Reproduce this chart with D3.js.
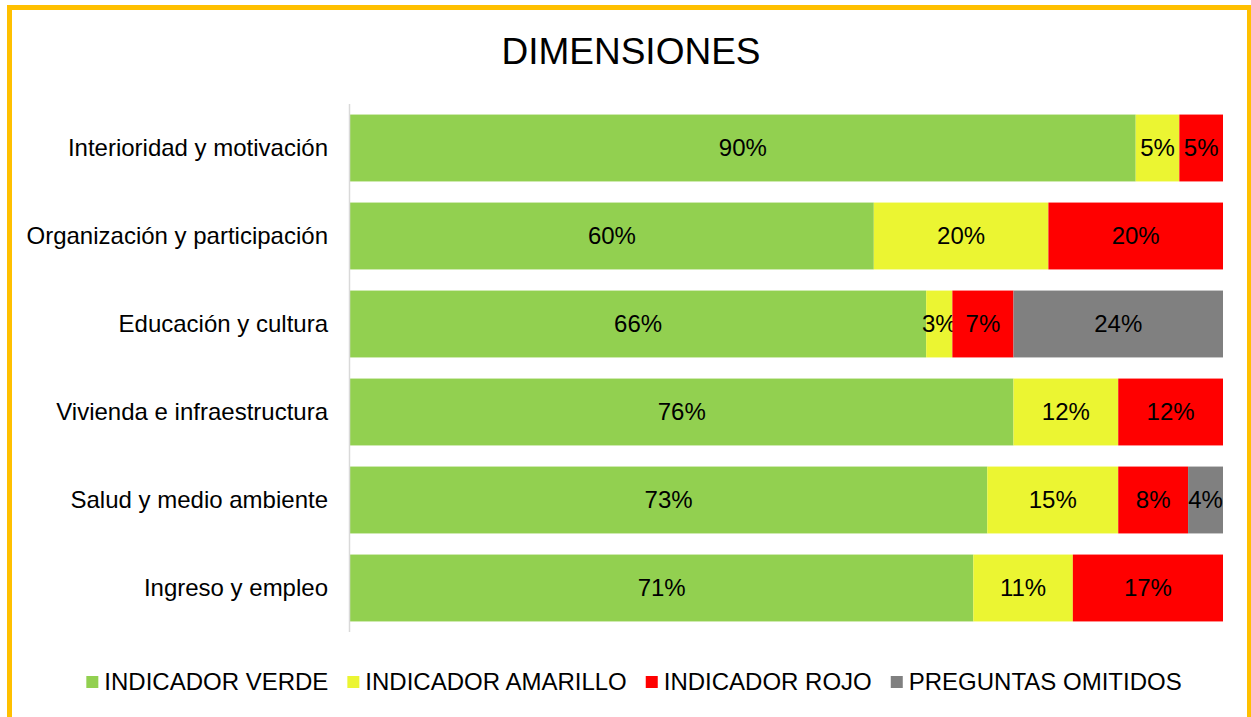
<!DOCTYPE html>
<html>
<head>
<meta charset="utf-8">
<script src="https://cdn.jsdelivr.net/npm/d3@7"></script>
<style>
  body { margin: 0; background: #fff; }
  text { font-family: Arial, "Liberation Sans", sans-serif; fill: #000; }
</style>
</head>
<body>
<script>
const width = 1251;
const height = 717;

// data
const categories = [
  "Interioridad y motivación",
  "Organización y participación",
  "Educación y cultura",
  "Vivienda e infraestructura",
  "Salud y medio ambiente",
  "Ingreso y empleo"
];
const seriesNames = ["INDICADOR VERDE", "INDICADOR AMARILLO", "INDICADOR ROJO", "PREGUNTAS OMITIDOS"];
const verde    = [90, 60, 66, 76, 73, 71.4];
const amarillo = [5, 20, 3, 12, 15, 11.4];
const rojo     = [5, 20, 7, 12, 8, 17.2];
const omitidos = [0, 0, 24, 0, 4, 0];
const colors = ["#92D050", "#EBF532", "#FF0000", "#808080"];

const rows = categories.map((c, i) => ({
  cat: c,
  [seriesNames[0]]: verde[i],
  [seriesNames[1]]: amarillo[i],
  [seriesNames[2]]: rojo[i],
  [seriesNames[3]]: omitidos[i]
}));

const svg = d3.select('body')
  .append('svg')
  .attr('width', width)
  .attr('height', height);

svg.append('rect')
  .attr('width', width)
  .attr('height', height)
  .attr('fill', '#fff');

// orange frame
svg.append('rect')
  .attr('x', 9.5)
  .attr('y', 7.5)
  .attr('width', 1240)
  .attr('height', 712)
  .attr('fill', 'none')
  .attr('stroke', '#FFC000')
  .attr('stroke-width', 5);

svg.append('text')
  .text('DIMENSIONES')
  .attr('x', 631)
  .attr('y', 64)
  .attr('text-anchor', 'middle')
  .style('font-size', '37px');

const x = d3.scaleLinear().domain([0, 1]).range([350, 1223]);
const y = d3.scaleBand()
  .domain(categories)
  .range([104, 632])
  .paddingInner(0.24)
  .paddingOuter(0.12);

const stack = d3.stack()
  .keys(seriesNames)
  .offset(d3.stackOffsetExpand);
const layers = stack(rows);

const g = svg.append('g');

layers.forEach((layer, k) => {
  const lg = g.append('g');
  const segs = layer.filter(d => d.data[seriesNames[k]] > 0);
  lg.selectAll('rect')
    .data(segs)
    .enter()
    .append('rect')
    .attr('x', d => x(d[0]))
    .attr('y', d => y(d.data.cat))
    .attr('width', d => x(d[1]) - x(d[0]))
    .attr('height', y.bandwidth())
    .attr('fill', colors[k]);

  lg.selectAll('text')
    .data(segs)
    .enter()
    .append('text')
    .text(d => Math.round(d.data[seriesNames[k]]) + '%')
    .attr('x', d => (x(d[0]) + x(d[1])) / 2)
    .attr('y', d => y(d.data.cat) + y.bandwidth() / 2)
    .attr('dy', '0.35em')
    .attr('text-anchor', 'middle')
    .style('font-size', '24px');
});

// vertical axis line + category labels
svg.append('line')
  .attr('x1', 349.5).attr('x2', 349.5)
  .attr('y1', 104).attr('y2', 632)
  .attr('stroke', '#D9D9D9')
  .attr('stroke-width', 1.5);

svg.selectAll('.cat')
  .data(categories)
  .enter()
  .append('text')
  .attr('class', 'cat')
  .text(d => d)
  .attr('x', 328)
  .attr('y', d => y(d) + y.bandwidth() / 2)
  .attr('dy', '0.35em')
  .attr('text-anchor', 'end')
  .style('font-size', '24px');

// legend
const legend = svg.append('g');
const items = seriesNames.map((name, i) => {
  const it = legend.append('g');
  it.append('rect')
    .attr('width', 12).attr('height', 12)
    .attr('y', 676)
    .attr('fill', colors[i]);
  const t = it.append('text')
    .text(name)
    .attr('x', 18)
    .attr('y', 682)
    .attr('dy', '0.35em')
    .style('font-size', '24px');
  return { g: it, w: 18 + t.node().getComputedTextLength() };
});
const gap = 19;
const total = d3.sum(items, d => d.w) + gap * (items.length - 1);
let lx = 634 - total / 2;
items.forEach(d => {
  d.g.attr('transform', 'translate(' + lx + ',0)');
  lx += d.w + gap;
});
</script>
</body>
</html>
